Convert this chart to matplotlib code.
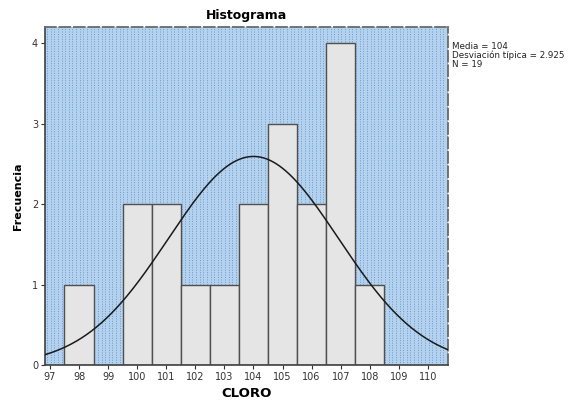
import numpy as np
import matplotlib
matplotlib.use("Agg")
import matplotlib.pyplot as plt

bin_centers = [98, 100, 101, 102, 103, 104, 105, 106, 107, 108]
frequencies = [1, 2, 2, 1, 1, 2, 3, 2, 4, 1]
mean = 104.0
std = 2.925
n = 19
x_ticks = list(range(97, 111))
y_ticks = [0, 1, 2, 3, 4]

fig = plt.figure(figsize=(5.71, 4.03), dpi=100)
ax = fig.add_axes([0.0788, 0.0943, 0.7058, 0.8387])
ax.set_xlim(96.83, 110.69)
ax.set_ylim(0, 4.2)
ax.set_facecolor("#b2d2ef")

# dotted background pattern
for xv in np.arange(96.9, 110.7, 0.125):
    ax.axvline(xv, color="#7898c4", lw=0.7, ls=(0, (1.0, 1.5)), zorder=0.5)

ax.bar(bin_centers, frequencies, width=1.0, color="#e5e5e5",
       edgecolor="#505050", linewidth=1.0, zorder=2)

xs = np.linspace(96.83, 110.69, 400)
ys = n * 1.0 / (std * np.sqrt(2 * np.pi)) * np.exp(-0.5 * ((xs - mean) / std) ** 2)
ax.plot(xs, ys, color="#1a1a1a", lw=1.1, zorder=3)

ax.set_xticks(x_ticks)
ax.set_xticklabels([str(v) for v in x_ticks])
ax.set_yticks(y_ticks)
ax.tick_params(axis="both", labelsize=7, length=3, width=0.8, color="#333333",
               labelcolor="#333333", pad=2)

for s in ["left", "bottom"]:
    ax.spines[s].set_color("#404040")
    ax.spines[s].set_linewidth(1.2)
for s in ["top", "right"]:
    ax.spines[s].set_color("#6a6a6a")
    ax.spines[s].set_linewidth(1.3)
    ax.spines[s].set_linestyle((0, (6, 2)))

ax.set_title("Histograma", fontsize=9, fontweight="bold", pad=6)
ax.set_xlabel("CLORO", fontsize=9.5, fontweight="bold", labelpad=4)
ax.set_ylabel("Frecuencia", fontsize=8, fontweight="bold", labelpad=6)

fig.text(0.791, 0.895, "Media = 104\nDesviación típica = 2.925\nN = 19",
         fontsize=6.3, va="top", ha="left", linespacing=0.95, color="#222222")

fig.savefig("out.png", dpi=100, facecolor="white")
